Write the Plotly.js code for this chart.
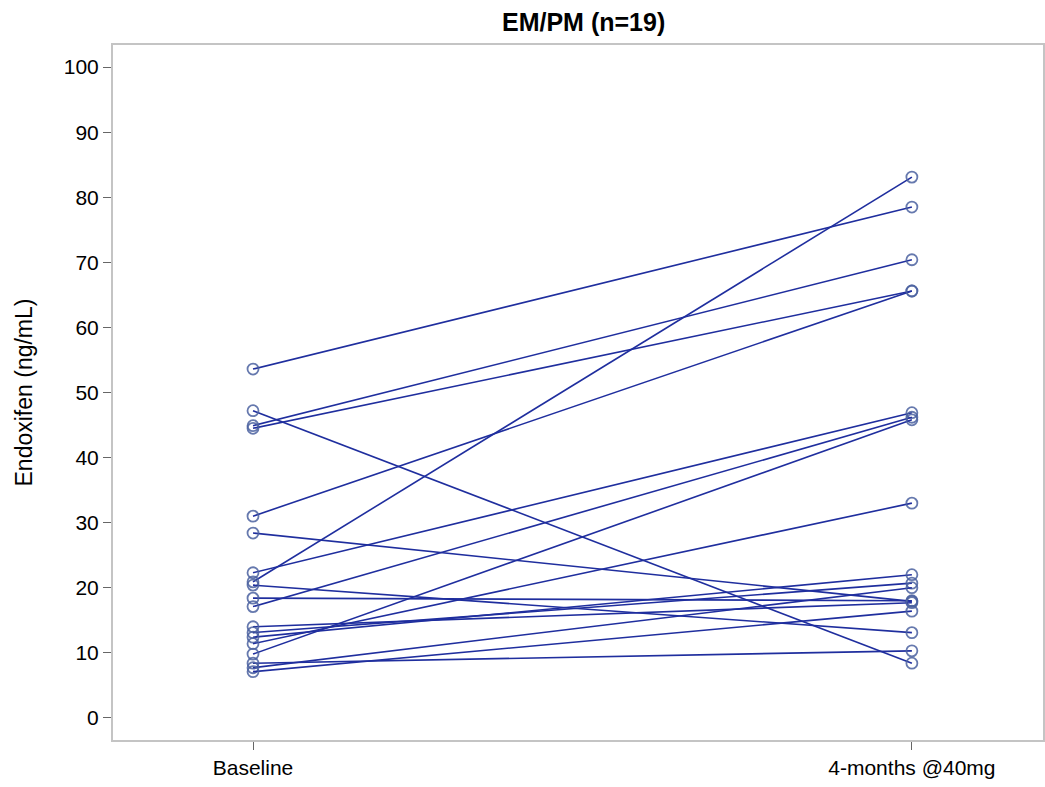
<!DOCTYPE html>
<html>
<head>
<meta charset="utf-8">
<script src="https://cdn.plot.ly/plotly-3.0.1.min.js"></script>
<style>html,body{margin:0;padding:0;background:#fff}#chart{width:1045px;height:787px}</style>
</head>
<body>
<div id="chart"></div>
<script>
const timepoints = ["Baseline", "4-months @40mg"];
const baseline = [53.6, 47.2, 44.9, 44.5, 31.0, 28.4, 22.3, 20.9, 20.4, 18.4, 17.1, 14.0, 13.1, 12.4, 11.4, 9.8, 8.4, 7.7, 7.1];
const month4   = [78.5, 8.4, 70.4, 65.6, 65.6, 17.9, 46.9, 83.1, 13.1, 18.0, 46.2, 17.7, 20.7, 22.0, 33.0, 45.8, 10.3, 20.0, 16.4];
const yTicks = [0, 10, 20, 30, 40, 50, 60, 70, 80, 90, 100];

const lineColor = '#1f2e9e';
const markerColor = 'rgba(75,98,160,0.85)';

const traces = baseline.map((b, i) => ({
  type: 'scatter',
  mode: 'lines+markers',
  x: [0, 1],
  y: [b, month4[i]],
  line: {color: lineColor, width: 1.6},
  marker: {symbol: 'circle-open', size: 11, color: markerColor, line: {width: 1.8, color: markerColor}},
  hoverinfo: 'skip',
  showlegend: false
}));

const layout = {
  width: 1045, height: 787,
  margin: {l: 113, r: 2, t: 45, b: 47},
  paper_bgcolor: '#fff', plot_bgcolor: '#fff',
  font: {family: 'Liberation Sans, Arial, sans-serif', size: 21, color: '#000'},
  title: {text: '<b>EM/PM (n=19)</b>', x: 0.5585, xanchor: 'center', y: 0.972, yanchor: 'middle',
          font: {family: 'Liberation Sans, Arial, sans-serif', size: 25, color: '#000'}},
  xaxis: {
    range: [-0.2125, 1.199],
    tickmode: 'array', tickvals: [0, 1], ticktext: timepoints,
    ticks: 'outside', ticklen: 8, tickcolor: '#666', tickwidth: 1,
    showgrid: false, zeroline: false,
    showline: true, mirror: true, linecolor: '#c4c4c4', linewidth: 2,
    tickfont: {size: 21, color: '#000'}
  },
  yaxis: {
    range: [-3.4, 103.4],
    tickmode: 'array', tickvals: yTicks,
    ticks: 'outside', ticklen: 8, tickcolor: '#666', tickwidth: 1,
    showgrid: false, zeroline: false,
    showline: true, mirror: true, linecolor: '#c4c4c4', linewidth: 2,
    tickfont: {size: 21, color: '#000'},
    title: {text: 'Endoxifen (ng/mL)', font: {size: 23, color: '#000'}, standoff: 25}
  }
};

Plotly.newPlot('chart', traces, layout, {displayModeBar: false, staticPlot: true});
</script>
</body>
</html>
